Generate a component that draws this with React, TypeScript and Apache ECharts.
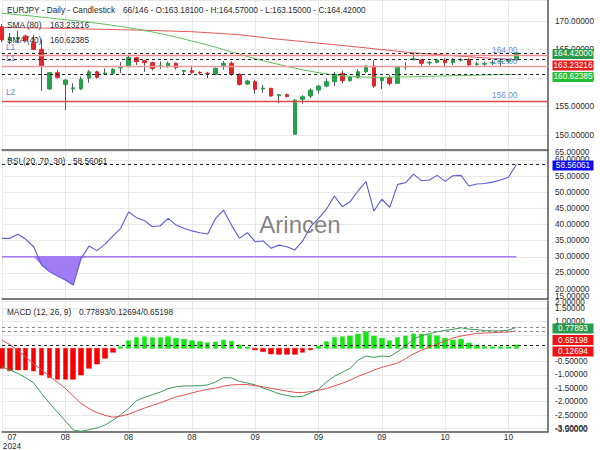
import React, { useEffect, useRef } from 'react';
import * as echarts from 'echarts';

// ---------- data ----------
const symbol = 'EURJPY';
const timeframe = 'Daily';
const chartType = 'Candlestick';
const cursorPos = 66;
const totalBars = 146;

const opens = [
  169.0, 166.6, 166.9, 167.38, 166.2, 165.05, 158.1, 160.95, 158.9, 158.1, 158.1,
  160.0, 161.1, 160.7, 160.84, 161.8, 162.0, 163.58, 163.05, 162.7, 162.05, 162.12,
  162.6, 161.2, 161.3, 161.0, 160.85, 160.67, 162.18, 162.6, 160.67, 158.96, 159.37,
  158.1, 158.2, 156.9, 157.1, 150.15, 156.28, 156.86, 157.9, 158.6, 159.37, 160.84,
  159.54, 160.14, 161.12, 162.12, 159.54, 160.07, 159.08, 161.95, 163.2, 163.18, 162.65,
  162.77, 163.18, 162.7, 163.15, 163.3, 162.4, 162.45, 162.65, 162.85, 162.95, 163.181,
];
const closes = [
  166.7, 167.0, 167.1, 166.55, 165.05, 162.12, 160.95, 160.14, 159.67, 158.3, 159.8,
  161.1, 160.15, 160.9, 161.55, 161.95, 163.65, 162.88, 162.7, 161.7, 162.15, 162.6,
  161.83, 161.35, 161.0, 160.9, 160.8, 161.72, 162.6, 160.67, 158.9, 159.5, 158.03,
  158.25, 156.86, 157.1, 156.75, 156.15, 156.73, 157.9, 158.6, 159.37, 160.7, 159.54,
  160.14, 161.12, 162.12, 158.6, 160.07, 159.08, 161.9, 162.05, 163.4, 162.6, 162.75,
  163.18, 162.7, 163.3, 163.25, 162.3, 162.5, 162.55, 162.75, 162.95, 163.18, 164.42,
];
const lows = [
  166.3, 165.9, 166.1, 166.4, 164.93, 157.75, 157.9, 159.9, 154.4, 157.45, 157.9,
  159.2, 159.9, 160.5, 160.7, 160.9, 161.9, 162.3, 161.1, 161.35, 161.6, 161.8,
  161.5, 160.6, 160.75, 160.6, 160.0, 160.5, 161.5, 160.4, 158.7, 158.8, 157.3,
  157.45, 156.7, 155.6, 156.6, 150.1, 155.5, 156.5, 157.3, 158.4, 158.6, 159.1,
  159.4, 159.95, 160.84, 158.3, 158.1, 158.7, 159.08, 161.5, 163.17, 161.9, 162.3,
  162.6, 161.9, 162.3, 162.9, 162.2, 162.1, 162.1, 162.3, 162.0, 162.6, 163.15,
];
const highs = [
  169.5, 167.9, 168.3, 167.6, 167.56, 166.8, 161.1, 161.4, 159.8, 159.1, 160.25,
  161.4, 161.3, 161.7, 161.75, 162.8, 163.9, 163.75, 163.17, 162.9, 162.9, 162.9,
  162.75, 161.4, 162.2, 161.2, 161.1, 161.85, 163.0, 162.9, 160.85, 159.7, 159.7,
  158.8, 158.3, 157.2, 157.3, 156.3, 157.0, 158.2, 158.8, 159.95, 161.1, 161.3,
  160.4, 161.55, 162.3, 163.1, 160.25, 160.55, 162.12, 162.75, 164.46, 163.3, 163.0,
  163.3, 163.5, 163.5, 163.5, 163.5, 162.9, 162.9, 163.2, 163.2, 163.4, 164.57,
];
const sma80 = [
  168.88, 168.87, 168.85, 168.83, 168.8, 168.78, 168.76, 168.73, 168.7, 168.67, 168.64,
  168.61, 168.58, 168.55, 168.52, 168.49, 168.46, 168.43, 168.4, 168.36, 168.32, 168.27,
  168.22, 168.18, 168.14, 168.05, 167.97, 167.88, 167.79, 167.7, 167.6, 167.45, 167.3,
  167.12, 166.95, 166.82, 166.68, 166.55, 166.41, 166.27, 166.13, 166.0, 165.85, 165.72,
  165.58, 165.44, 165.3, 165.15, 165.0, 164.86, 164.71, 164.56, 164.42, 164.33, 164.24,
  164.14, 164.05, 163.95, 163.85, 163.74, 163.64, 163.55, 163.46, 163.38, 163.3, 163.23216,
];
const sma40 = [
  171.37, 171.25, 171.1, 171.0, 170.85, 170.7, 170.55, 170.4, 170.25, 170.1, 169.95,
  169.8, 169.62, 169.45, 169.25, 169.05, 168.85, 168.6, 168.35, 168.1, 167.8, 167.5,
  167.2, 166.85, 166.5, 166.15, 165.8, 165.4, 165.0, 164.6, 164.2, 163.8, 163.4,
  163.05, 162.7, 162.4, 162.05, 161.75, 161.45, 161.2, 160.95, 160.75, 160.55, 160.4,
  160.3, 160.22, 160.17, 160.14, 160.14, 160.16, 160.2, 160.22, 160.25, 160.28, 160.31,
  160.35, 160.38, 160.42, 160.45, 160.49, 160.52, 160.55, 160.58, 160.61, 160.63, 160.62385,
];
const rsi = [
  35.7, 35.7, 36.95, 35.4, 33.1, 27.45, 25.4, 24.04, 22.8, 21.25, 29.5,
  33.3, 31.9, 33.85, 36.4, 38.8, 43.85, 42.1, 41.2, 39.3, 39.6, 41.9,
  39.8, 38.8, 38.0, 37.45, 37.05, 41.9, 44.4, 39.8, 35.7, 37.45, 34.65,
  34.9, 32.6, 33.6, 33.1, 32.1, 34.9, 39.3, 41.9, 44.7, 48.8, 45.5,
  47.05, 50.45, 53.25, 44.15, 47.8, 45.3, 52.4, 52.9, 55.6, 53.55, 53.75,
  55.2, 53.35, 55.1, 55.2, 51.9, 52.5, 52.7, 53.1, 53.75, 54.6, 58.56061,
];
const macd = [
  -0.69, -0.81, -0.94, -1.1, -1.3, -1.69, -2.05, -2.39, -2.72, -3.06, -3.11,
  -3.05, -2.98, -2.88, -2.7, -2.49, -2.25, -1.96, -1.84, -1.74, -1.64, -1.51,
  -1.44, -1.41, -1.41, -1.4, -1.37, -1.26, -1.1, -1.11, -1.24, -1.3, -1.37,
  -1.49, -1.59, -1.7, -1.77, -1.82, -1.8, -1.67, -1.54, -1.26, -1.05, -0.9,
  -0.75, -0.44, -0.29, -0.34, -0.29, -0.31, -0.125, 0.086, 0.35, 0.47, 0.55,
  0.62, 0.67, 0.71, 0.77, 0.72, 0.7, 0.66, 0.655, 0.65, 0.685, 0.77893,
];
const signal = [
  0.31, 0.135, -0.075, -0.33, -0.575, -0.81, -1.05, -1.27, -1.5, -1.78, -2.07,
  -2.26, -2.41, -2.51, -2.58, -2.54, -2.47, -2.35, -2.24, -2.14, -2.04, -1.93,
  -1.82, -1.75, -1.67, -1.6, -1.54, -1.49, -1.42, -1.37, -1.36, -1.36, -1.4,
  -1.44, -1.5, -1.55, -1.6, -1.65, -1.66, -1.62, -1.57, -1.51, -1.41, -1.31,
  -1.19, -1.05, -0.94, -0.82, -0.71, -0.64, -0.55, -0.39, -0.21, -0.075, 0.05,
  0.15, 0.27, 0.385, 0.46, 0.51, 0.56, 0.57, 0.585, 0.6, 0.61, 0.65198,
];
const hist = [
  -0.75, -0.84, -0.81, -0.81, -0.85, -1.0, -1.1, -1.16, -1.16, -1.16, -1.0,
  -0.75, -0.59, -0.375, -0.15, 0.06, 0.285, 0.4, 0.435, 0.4, 0.4, 0.435,
  0.375, 0.34, 0.285, 0.25, 0.21, 0.235, 0.31, 0.27, 0.125, 0.05, -0.06,
  -0.125, -0.21, -0.225, -0.225, -0.225, -0.15, -0.06, 0.086, 0.25, 0.41, 0.435,
  0.46, 0.535, 0.62, 0.46, 0.375, 0.285, 0.41, 0.46, 0.535, 0.535, 0.51,
  0.47, 0.375, 0.31, 0.34, 0.2, 0.12, 0.07, 0.06, 0.06, 0.06, 0.12694,
];

const levelNames = ['L1', 'L1', 'L2'];
const levelValues = [164.0, 162.0, 156.0];
const levelColors = ['#ef8a8a', '#ef9a9a', '#dd4a4a'];
const rsiParams = [20, 70, 30];
const rsiOversold = 30;
const macdParams = [12, 26, 9];
const smaSlow = 80;
const smaFast = 40;
const monthTicks = ['07', '08', '08', '08', '09', '09', '09', '10', '10'];
const yearLabel = '2024';
const watermark = 'Arincen';
// axis tick labels hidden under the value boxes in the MACD pane
const macdHiddenTicks = [0, 0.5];

// ---------- styling ----------
const FONT = '"Liberation Sans", Arial, Helvetica, sans-serif';
const FS = 8.25;
const TXT = '#2a2a2a';
const GRIDC = '#e8e8e8';
const AXC = '#555555';
const UP = '#27a04c';
const DOWN = '#e0262b';
const SLOTS = 70;
const TICK_EVERY = 8;

const f5 = (v: number) => v.toFixed(5);

export default function App() {
  const ref = useRef<HTMLDivElement>(null);

  useEffect(() => {
    const el = ref.current!;
    const chart = echarts.init(el, null, { renderer: 'svg' });
    const N = closes.length;
    const cats = Array.from({ length: SLOTS }, (_, i) => String(i));
    const wickData = opens.map((o, i) => [o, closes[i], lows[i], highs[i]]);
    const bodyData = opens.map((o, i) => [o, closes[i], Math.min(o, closes[i]), Math.max(o, closes[i])]);
    const histData = hist.map((v) => [0, v, Math.min(0, v), Math.max(0, v)]);
    const rsiBelow = rsi.map((v) => Math.min(v, rsiOversold));
    const isTick = (i: number) => i % TICK_EVERY === 0;

    const gridBase = { left: 2, right: 52, containLabel: false, outerBoundsMode: 'none' };
    const grids = [
      { ...gridBase, top: 0, height: 150 },
      { ...gridBase, top: 151, height: 148 },
      { ...gridBase, top: 301, height: 130.7 },
    ];
    const yRanges = [
      { min: 147.39, max: 173.7, iv: 5, hidden: [] as number[] },
      { min: 16.92, max: 62.74, iv: 5, hidden: [] as number[] },
      { min: -3.124, max: 1.772, iv: 0.5, hidden: macdHiddenTicks },
    ];

    const textBase = { fontSize: FS, fontFamily: FONT, color: TXT };

    const xAxis = grids.map((_, k) => ({
      type: 'category',
      gridIndex: k,
      data: cats,
      boundaryGap: false,
      axisLine: { show: true, onZero: false, lineStyle: { color: AXC, width: 1.5 } },
      axisTick: { show: false },
      splitLine: { show: true, interval: (i: number) => isTick(i), lineStyle: { color: GRIDC, width: 1 } },
      axisLabel:
        k === 2
          ? {
              show: true,
              interval: (i: number) => isTick(i),
              margin: 1,
              ...textBase,
              formatter: (v: string) => {
                const i = Number(v);
                const t = monthTicks[i / TICK_EVERY] ?? '';
                if (i === 0) return `{f|${t}}\n{f|${yearLabel}}`;
                return `{n|${t}}`;
              },
              rich: {
                f: { ...textBase, padding: [0, 0, 0, 20], lineHeight: 9 },
                n: { ...textBase, lineHeight: 9 },
              },
            }
          : { show: false },
    }));

    const yAxis = yRanges.map((r, k) => ({
      type: 'value',
      gridIndex: k,
      position: 'right',
      min: r.min,
      max: r.max,
      minInterval: r.iv,
      maxInterval: r.iv,
      splitNumber: Math.round((r.max - r.min) / r.iv),
      axisLine: { show: true, lineStyle: { color: AXC, width: 1.5 } },
      axisTick: { show: false },
      splitLine: { show: true, lineStyle: { color: GRIDC, width: 1 } },
      axisLabel: {
        show: true,
        margin: 7,
        ...textBase,
        showMinLabel: false,
        showMaxLabel: false,
        formatter: (v: number) => {
          const snapped = Math.round(v / r.iv) * r.iv;
          if (Math.abs(v - snapped) > 1e-6) return '';
          if (r.hidden.some((h) => Math.abs(h - snapped) < 1e-9)) return '';
          return f5(snapped);
        },
      },
    }));

    const dashed = (v: number, color: string) => ({
      yAxis: v,
      lineStyle: { color, width: 1, type: [3, 3] },
    });

    const option: any = {
      animation: false,
      backgroundColor: '#ffffff',
      grid: grids,
      xAxis,
      yAxis,
      series: [
        {
          type: 'candlestick',
          xAxisIndex: 0,
          yAxisIndex: 0,
          data: wickData,
          barWidth: 1,
          itemStyle: { color: '#555', color0: '#555', borderColor: '#555', borderColor0: '#555', borderWidth: 1 },
          silent: true,
        },
        {
          type: 'candlestick',
          xAxisIndex: 0,
          yAxisIndex: 0,
          data: bodyData,
          barWidth: 4,
          itemStyle: { color: UP, color0: DOWN, borderColor: UP, borderColor0: DOWN, borderWidth: 1 },
          silent: true,
        },
        {
          type: 'line',
          xAxisIndex: 0,
          yAxisIndex: 0,
          data: sma80,
          showSymbol: false,
          lineStyle: { color: '#e25656', width: 1 },
          silent: true,
          markLine: {
            symbol: 'none',
            silent: true,
            label: { show: false },
            data: [
              ...levelValues.map((v, i) => ({ yAxis: v, lineStyle: { color: levelColors[i], width: 1.3, type: 'solid' } })),
              dashed(closes[N - 1], '#222'),
              dashed(sma80[N - 1], '#222'),
              dashed(sma40[N - 1], '#222'),
            ],
          },
        },
        {
          type: 'line',
          xAxisIndex: 0,
          yAxisIndex: 0,
          data: sma40,
          showSymbol: false,
          lineStyle: { color: '#5cc05c', width: 1 },
          silent: true,
        },
        {
          type: 'line',
          xAxisIndex: 1,
          yAxisIndex: 1,
          data: rsi,
          showSymbol: false,
          lineStyle: { color: '#5a5ad8', width: 1.1 },
          silent: true,
          z: 4,
          markLine: {
            symbol: 'none',
            silent: true,
            label: { show: false },
            data: [dashed(rsi[N - 1], '#222')],
          },
        },
        {
          type: 'line',
          xAxisIndex: 1,
          yAxisIndex: 1,
          data: rsiBelow,
          showSymbol: false,
          lineStyle: { opacity: 0, width: 0 },
          areaStyle: { origin: rsiOversold, opacity: 1, color: '#a07cf2' },
          silent: true,
          z: 3,
        },
        {
          type: 'candlestick',
          xAxisIndex: 2,
          yAxisIndex: 2,
          data: histData,
          barWidth: 5,
          itemStyle: { color: '#14e614', color0: '#f50000', borderColor: '#14e614', borderColor0: '#f50000', borderWidth: 0.5 },
          silent: true,
        },
        {
          type: 'line',
          xAxisIndex: 2,
          yAxisIndex: 2,
          data: macd,
          showSymbol: false,
          lineStyle: { color: '#3a9a5a', width: 1 },
          silent: true,
          markLine: {
            symbol: 'none',
            silent: true,
            label: { show: false },
            data: [dashed(macd[N - 1], '#8a8a8a'), dashed(signal[N - 1], '#8a8a8a'), dashed(hist[N - 1], '#222')],
          },
        },
        {
          type: 'line',
          xAxisIndex: 2,
          yAxisIndex: 2,
          data: signal,
          showSymbol: false,
          lineStyle: { color: '#e25050', width: 1 },
          silent: true,
        },
      ],
    };

    chart.setOption(option);

    // ---------- overlays placed through the chart's own scales ----------
    const py = (axis: number, v: number) => chart.convertToPixel({ yAxisIndex: axis } as any, v) as unknown as number;
    const px = (i: number) => chart.convertToPixel({ xAxisIndex: 0 } as any, i) as unknown as number;

    const g: any[] = [];
    const txt = (text: string, x: number, y: number, extra: any = {}, z = 100) =>
      g.push({
        type: 'text',
        x,
        y,
        z,
        silent: true,
        style: { text, fill: TXT, fontSize: FS, fontFamily: FONT, align: 'left', verticalAlign: 'middle', ...extra },
      });

    const last = N - 1;

    // RSI oversold level line, from first to last bar
    const y30 = py(1, rsiOversold);
    g.push({
      type: 'line',
      z: 3,
      silent: true,
      shape: { x1: px(0), y1: y30, x2: px(last), y2: y30 },
      style: { stroke: '#a77cf0', lineWidth: 1.3 },
    });

    // rounded edge labels of the indicator panes (top / bottom of each pane)
    [1, 2].forEach((k) => {
      const r = yRanges[k];
      const topV = Math.ceil(r.max / r.iv - 1e-9) * r.iv;
      const botV = Math.floor(r.min / r.iv + 1e-9) * r.iv;
      txt(f5(topV), 555, py(k, r.max) + 1.6, {}, 10);
      txt(f5(botV), 555, py(k, r.min) - 2.6, {}, 10);
    });

    txt(`${symbol} - ${timeframe} - ${chartType}`, 7, 10.5);
    txt(
      `${cursorPos}/${totalBars} - O:${f5(opens[last])} - H:${f5(highs[last])} - L:${f5(lows[last])} - C:${f5(closes[last])}`,
      123,
      10.5
    );
    txt(`SMA (${smaSlow})`, 7, 25);
    txt(f5(sma80[last]), 50, 25);
    txt(`SMA (${smaFast})`, 7, 40.5);
    txt(f5(sma40[last]), 50, 40.5);
    txt(`RSI (${rsiParams.join(', ')})`, 7, 161);
    txt(f5(rsi[last]), 73, 161);
    txt(`MACD (${macdParams.join(', ')})`, 7, 312.5);
    txt(`${f5(macd[last])}/${f5(hist[last])}/${f5(signal[last])}`, 79, 312.5);

    const xEnd = px(last) + 1;
    levelValues.forEach((v, i) => {
      const y = py(0, v);
      txt(levelNames[i], 6, y - 8, { fill: '#5b7fdc' });
      txt(v.toFixed(2), xEnd, y - 5, { fill: '#6a8fe0', align: 'right' });
    });

    g.push({
      type: 'text',
      x: 300,
      y: 224,
      z: 1,
      silent: true,
      style: {
        text: watermark,
        fill: 'rgba(110,110,110,0.85)',
        fontSize: 24,
        fontFamily: FONT,
        align: 'center',
        verticalAlign: 'middle',
      },
    });

    const boxes = (items: { axis: number; v: number; fill: string }[]) => {
      const H = 10;
      const GAP = 1.5;
      const arr = items.map((it) => ({ ...it, cy: py(it.axis, it.v) + 1 })).sort((a, b) => a.cy - b.cy);
      let prevBottom = -Infinity;
      arr.forEach((a) => {
        a.cy = Math.max(a.cy, prevBottom + GAP + H / 2);
        prevBottom = a.cy + H / 2;
        g.push({ type: 'rect', z: 100, silent: true, shape: { x: 552.5, y: a.cy - H / 2, width: 41, height: H }, style: { fill: a.fill } });
        g.push({
          type: 'text',
          x: 573,
          y: a.cy,
          z: 101,
          silent: true,
          style: { text: f5(a.v), fill: '#ffffff', fontSize: FS, fontFamily: FONT, align: 'center', verticalAlign: 'middle' },
        });
      });
    };
    boxes([
      { axis: 0, v: closes[last], fill: '#2a9a4c' },
      { axis: 0, v: sma80[last], fill: '#e31c1c' },
      { axis: 0, v: sma40[last], fill: '#22bf34' },
    ]);
    boxes([{ axis: 1, v: rsi[last], fill: '#0a0aee' }]);
    boxes([
      { axis: 2, v: macd[last], fill: '#2a9a4c' },
      { axis: 2, v: signal[last], fill: '#ee1414' },
      { axis: 2, v: hist[last], fill: '#ee1414' },
    ]);

    chart.setOption({ graphic: g });

    return () => chart.dispose();
  }, []);

  return <div ref={ref} style={{ position: 'fixed', left: 0, top: 0, width: 600, height: 450 }} />;
}
